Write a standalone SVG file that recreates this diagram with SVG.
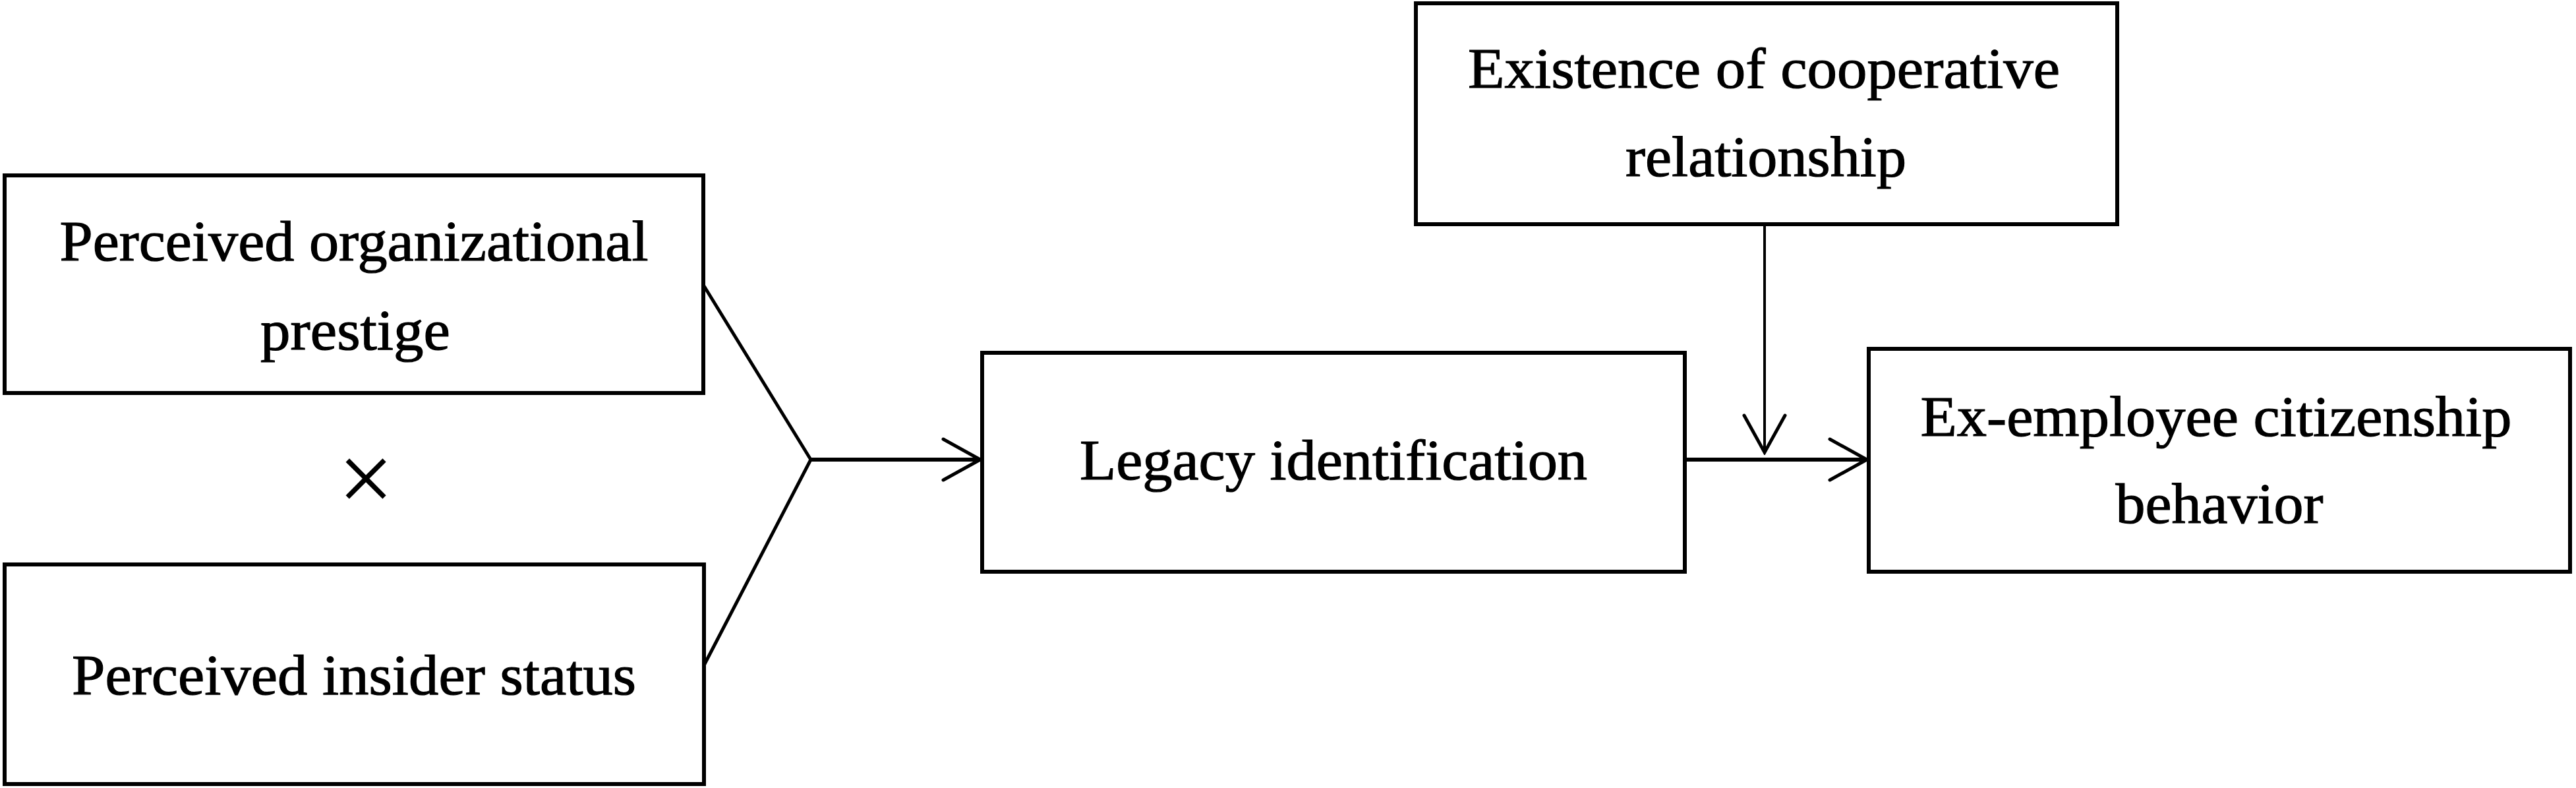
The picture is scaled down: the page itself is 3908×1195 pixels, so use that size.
<svg xmlns="http://www.w3.org/2000/svg" width="3908" height="1195" viewBox="0 0 3908 1195">
<style>
.box{fill:#fff;stroke:#000;stroke-width:6}
.lbl{font-family:"Liberation Serif","Times New Roman",serif;font-size:86px;fill:#000;stroke:#000;stroke-width:1.2;text-anchor:middle}
.ln{fill:none;stroke:#000;stroke-width:5;stroke-linecap:round}
.hl{fill:none;stroke:#000;stroke-width:6}
.vl{fill:none;stroke:#000;stroke-width:4}
</style>
<defs>
<marker id="open" markerUnits="userSpaceOnUse" viewBox="-60 -36 64 72" refX="0" refY="0" markerWidth="64" markerHeight="72" orient="auto">
<path d="M-56,-31 L0,0 L-56,31" fill="none" stroke="#000" stroke-width="5" stroke-linecap="round" stroke-linejoin="miter"/>
</marker>
</defs>
<rect width="3908" height="1195" fill="#fff"/>
<g id="connectors">
<path class="ln" d="M1067,432 L1230,697 L1068,1009"/>
<path class="hl" d="M1230,697 L1487,697" marker-end="url(#open)"/>
<path class="hl" d="M2556,697 L2832,697" marker-end="url(#open)"/>
<path class="vl" d="M2677,340 L2677,686" marker-end="url(#open)"/>
</g>
<g id="node-prestige">
<rect class="box" x="7" y="266" width="1060" height="330"/>
<text class="lbl" x="537" y="395" textLength="893" lengthAdjust="spacingAndGlyphs">Perceived organizational</text>
<text class="lbl" x="539" y="530" textLength="288" lengthAdjust="spacingAndGlyphs">prestige</text>
</g>
<g id="node-times">
<text x="555" y="776" font-family="Liberation Serif, Times New Roman, serif" font-size="150" text-anchor="middle" fill="#000">×</text>
</g>
<g id="node-insider">
<rect class="box" x="7" y="856" width="1061" height="333"/>
<text class="lbl" x="537" y="1053" textLength="856" lengthAdjust="spacingAndGlyphs">Perceived insider status</text>
</g>
<g id="node-legacy">
<rect class="box" x="1490" y="535" width="1066" height="332"/>
<text class="lbl" x="2023" y="727" textLength="770" lengthAdjust="spacingAndGlyphs">Legacy identification</text>
</g>
<g id="node-cooperative">
<rect class="box" x="2148" y="5" width="1064" height="335"/>
<text class="lbl" x="2676" y="133" textLength="898" lengthAdjust="spacingAndGlyphs">Existence of cooperative</text>
<text class="lbl" x="2679" y="267" textLength="426" lengthAdjust="spacingAndGlyphs">relationship</text>
</g>
<g id="node-citizenship">
<rect class="box" x="2835" y="529" width="1064" height="338"/>
<text class="lbl" x="3362" y="661" textLength="897" lengthAdjust="spacingAndGlyphs">Ex-employee citizenship</text>
<text class="lbl" x="3367" y="793" textLength="315" lengthAdjust="spacingAndGlyphs">behavior</text>
</g>
</svg>
